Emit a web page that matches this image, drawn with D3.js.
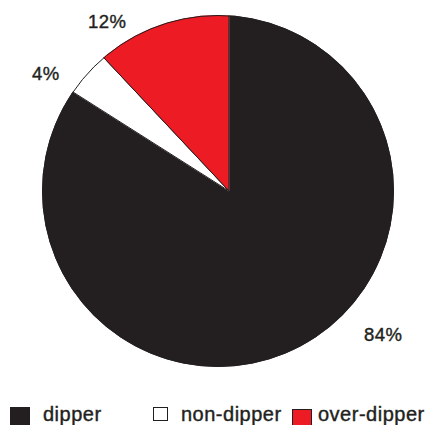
<!DOCTYPE html>
<html><head><meta charset="utf-8">
<script src="https://cdn.jsdelivr.net/npm/d3@7"></script>
<style>html,body{margin:0;padding:0;background:#fff;}svg{display:block;}</style>
</head><body>
<svg id="chart" width="426" height="425"></svg>
<script>
// Data
const categories = ["dipper", "non-dipper", "over-dipper"];
const values = [84, 4, 12];
const labels = ["84%", "4%", "12%"];
const colors = ["#231f20", "#ffffff", "#ed1c24"];

// Layout
const W = 426, H = 425;
const circle = {cx: 218, cy: 191, r: 176};
const apex = {x: 229, y: 191};
const labelPos = [[364, 341], [32, 80], [88, 28]];
const legendPos = [
  {x: 10, y: 407, w: 20, h: 20, tx: 43},
  {x: 153.5, y: 407.5, w: 14, h: 13, tx: 181},
  {x: 292.5, y: 409.5, w: 19, h: 18, tx: 318}
];

const svg = d3.select("#chart");

svg.append("defs").append("clipPath").attr("id", "pieclip")
  .append("circle").attr("cx", circle.cx).attr("cy", circle.cy).attr("r", circle.r);

const pie = d3.pie().sort(null).value(d => d)(values);
const arc = d3.arc().innerRadius(0).outerRadius(220);

const g = svg.append("g").attr("clip-path", "url(#pieclip)")
  .append("g").attr("transform", `translate(${apex.x},${apex.y})`);

g.selectAll("path").data(pie).join("path")
  .attr("d", arc)
  .attr("fill", (d, i) => colors[i])
  .attr("stroke", (d, i) => i === 0 ? "#ffffff" : "#231f20")
  .attr("stroke-width", (d, i) => i === 0 ? 0.6 : 1)
  .attr("stroke-linejoin", "miter");

svg.append("circle").attr("cx", circle.cx).attr("cy", circle.cy).attr("r", circle.r - 0.5)
  .attr("fill", "none").attr("stroke", "#231f20").attr("stroke-width", 1);

const font = "Liberation Sans, Arial, sans-serif";

// Percentage labels
svg.selectAll("text.pct").data(labels).join("text")
  .attr("class", "pct")
  .attr("x", (d, i) => labelPos[i][0])
  .attr("y", (d, i) => labelPos[i][1])
  .attr("font-family", font)
  .attr("font-size", 18.5)
  .attr("letter-spacing", 0.5)
  .attr("fill", "#231f20")
  .attr("stroke", "#231f20").attr("stroke-width", 0.4)
  .text(d => d);

// Legend
const lg = svg.append("g");
categories.forEach((c, i) => {
  const p = legendPos[i];
  lg.append("rect").attr("x", p.x).attr("y", p.y).attr("width", p.w).attr("height", p.h)
    .attr("fill", colors[i])
    .attr("stroke", i === 0 ? "none" : "#231f20").attr("stroke-width", 1);
  lg.append("text").attr("x", p.tx).attr("y", 421)
    .attr("font-family", font)
    .attr("font-size", 20)
    .attr("letter-spacing", 0.5)
    .attr("fill", "#231f20")
    .attr("stroke", "#231f20").attr("stroke-width", 0.4)
    .text(c);
});
</script>
</body></html>
